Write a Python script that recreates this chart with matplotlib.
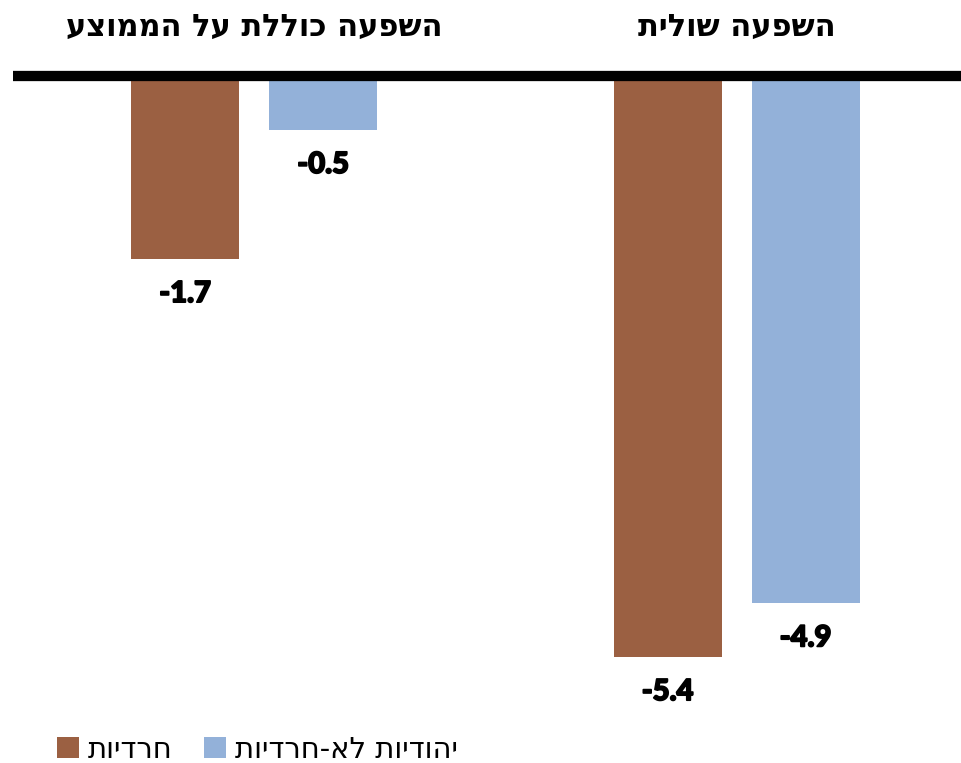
import matplotlib
matplotlib.use("Agg")
import matplotlib.pyplot as plt
import matplotlib.patheffects as pe
from matplotlib.patches import Patch
import numpy as np

# ---- data ----
categories = ["השפעה כוללת על הממוצע", "השפעה שולית"]
series_names = ["חרדיות", "יהודיות לא-חרדיות"]
haredi = [-1.7, -5.4]
non_haredi = [-0.5, -4.9]
colors = ["#9B6042", "#93B1D9"]

def rtl(s):
    # matplotlib lays glyphs out left-to-right, so reverse for Hebrew display
    return s[::-1]

plt.rcParams['font.family'] = ['DejaVu Sans']

fig = plt.figure(figsize=(9.61, 7.63), dpi=100)
ax = fig.add_axes([13/961, 1 - 743/763, (961 - 13)/961, (743 - 76)/763])

x = np.arange(len(categories))
w = 0.224
off = 0.143
ax.bar(x - off, haredi, width=w, color=colors[0], zorder=2)
ax.bar(x + off, non_haredi, width=w, color=colors[1], zorder=2)
ax.axhline(0, color="black", lw=7.4, zorder=3, clip_on=False,
           solid_capstyle="butt")

ax.set_xlim(-0.5, 1.465)
ax.set_ylim(-6.2, 0)
ax.axis("off")

label_font = dict(family=["Lato", "DejaVu Sans"], fontsize=21, fontweight="black")
stroke = [pe.withStroke(linewidth=1.3, foreground="black")]
for xi, v in zip(x - off, haredi):
    ax.annotate(f"{v:.1f}", (xi, v), xytext=(0, -16), textcoords="offset points",
                ha="center", va="top", color="black", path_effects=stroke,
                **label_font)
for xi, v in zip(x + off, non_haredi):
    ax.annotate(f"{v:.1f}", (xi, v), xytext=(0, -16), textcoords="offset points",
                ha="center", va="top", color="black", path_effects=stroke,
                **label_font)

for xi, c in zip(x, categories):
    ax.text(xi, 0.45, rtl(c), ha="center", va="center", fontsize=22,
            fontweight="bold", clip_on=False)

handles = [Patch(facecolor=colors[0]), Patch(facecolor=colors[1])]
fig.legend(handles, [rtl(s) for s in series_names], loc="lower left",
           bbox_to_anchor=(45/961, -0.016), ncol=2, frameon=False,
           fontsize=21, handlelength=0.75, handleheight=0.75,
           handletextpad=0.3, columnspacing=1.1, borderaxespad=0)

fig.savefig("out.png", dpi=100)
